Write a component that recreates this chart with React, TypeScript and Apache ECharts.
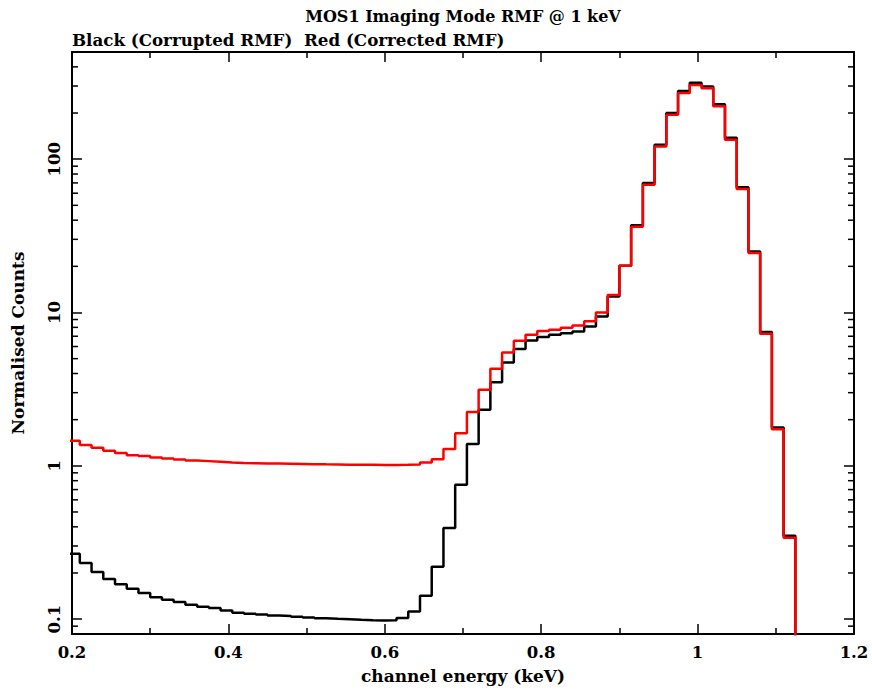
import React, { useEffect, useRef } from "react";
import * as echarts from "echarts";

// Lower edges of the 15 eV channel bins (keV)
const binLowEdges = [
  0.195, 0.21, 0.225, 0.24, 0.255, 0.27, 0.285, 0.3, 0.315, 0.33,
  0.345, 0.36, 0.375, 0.39, 0.405, 0.42, 0.435, 0.45, 0.465, 0.48,
  0.495, 0.51, 0.525, 0.54, 0.555, 0.57, 0.585, 0.6, 0.615, 0.63,
  0.645, 0.66, 0.675, 0.69, 0.705, 0.72, 0.735, 0.75, 0.765, 0.78,
  0.795, 0.81, 0.825, 0.84, 0.855, 0.87, 0.885, 0.9, 0.915, 0.93,
  0.945, 0.96, 0.975, 0.99, 1.005, 1.02, 1.035, 1.05, 1.065, 1.08,
  1.095, 1.11,
];
const lastBinHighEdge = 1.125;
// value used for the empty channels after the last bin (drawn as the drop to the axis)
const emptyChannel = 0.001;

// Black: corrupted RMF
const corruptedCounts = [
  0.267, 0.232, 0.203, 0.183, 0.169, 0.158, 0.148, 0.139, 0.134, 0.1295,
  0.124, 0.1205, 0.118, 0.1137, 0.11, 0.1085, 0.1072, 0.1058, 0.105, 0.1037,
  0.1026, 0.1015, 0.1006, 0.0998, 0.099, 0.0983, 0.098, 0.0983, 0.1017, 0.112,
  0.142, 0.22, 0.393, 0.752, 1.386, 2.32, 3.51, 4.72, 5.77, 6.57,
  6.91, 7.16, 7.33, 7.51, 8.09, 9.42, 12.7, 20.2, 37, 70,
  124, 200, 278, 315, 298, 228, 138, 65.5, 25, 7.45,
  1.78, 0.35,
];

// Red: corrected RMF
const correctedCounts = [
  1.456, 1.365, 1.31, 1.252, 1.21, 1.174, 1.157, 1.133, 1.116, 1.099,
  1.083, 1.073, 1.062, 1.051, 1.043, 1.04, 1.037, 1.034, 1.031, 1.028,
  1.025, 1.022, 1.02, 1.018, 1.016, 1.015, 1.014, 1.014, 1.016, 1.02,
  1.05, 1.105, 1.285, 1.633, 2.24, 3.13, 4.3, 5.49, 6.55, 7.16,
  7.56, 7.71, 7.94, 8.22, 8.76, 9.99, 13.0, 20.2, 36.3, 68.1,
  121, 195, 270, 305, 290, 221, 134, 63.9, 24.4, 7.26,
  1.735, 0.34,
];

// minor tick positions of the logarithmic y axis
const yMinorTicks = [
  0.09, 0.2, 0.3, 0.4, 0.5, 0.6, 0.7, 0.8, 0.9,
  2, 3, 4, 5, 6, 7, 8, 9,
  20, 30, 40, 50, 60, 70, 80, 90,
  200, 300, 400,
];

const titleText = "MOS1 Imaging Mode RMF @ 1 keV";
const subtitleText = "Black (Corrupted RMF)  Red (Corrected RMF)";
const xName = "channel energy (keV)";
const yName = "Normalised Counts";

const FONT_FAMILY = '"DejaVu Serif", serif';

export default function App() {
  const ref = useRef<HTMLDivElement>(null);

  useEffect(() => {
    document.body.style.margin = "0";
    const chart = echarts.init(ref.current!, null, { renderer: "svg" });

    const toSteps = (vals: number[]) => {
      const d: number[][] = binLowEdges.map((e, i) => [e, vals[i]]);
      d.push([lastBinHighEdge, emptyChannel]);
      return d;
    };

    const line = { color: "#000", width: 2 };
    const tickStyle = { color: "#000", width: 1.5 };
    const labelStyle = {
      color: "#000",
      fontFamily: FONT_FAMILY,
      fontWeight: "bold" as const,
      fontSize: 16.5,
    };
    const nameStyle = { ...labelStyle, fontSize: 17 };

    const xCommon = {
      type: "value" as const,
      min: 0.2,
      max: 1.2,
      interval: 0.2,
      axisLine: { show: true, onZero: false, lineStyle: line },
      axisTick: { show: true, inside: true, length: 10, lineStyle: tickStyle },
      minorTick: { show: true, splitNumber: 2, length: 6, lineStyle: tickStyle },
      splitLine: { show: false },
      minorSplitLine: { show: false },
    };

    const yCommon = {
      type: "log" as const,
      logBase: 10,
      min: 0.08,
      max: 500,
      axisLine: { show: true, onZero: false, lineStyle: line },
      axisTick: { show: true, inside: true, length: 10, lineStyle: tickStyle },
      splitLine: { show: false },
    };

    chart.setOption({
      animation: false,
      backgroundColor: "#fff",
      grid: { left: 72, right: 18, top: 52, bottom: 58 },
      graphic: [
        {
          type: "text",
          x: 463,
          y: 16,
          style: {
            text: titleText,
            fill: "#000",
            font: `bold 16px ${FONT_FAMILY}`,
            align: "center",
            verticalAlign: "middle",
          },
        },
        {
          type: "text",
          x: 72,
          y: 40,
          style: {
            text: subtitleText,
            fill: "#000",
            font: `bold 16.7px ${FONT_FAMILY}`,
            align: "left",
            verticalAlign: "middle",
          },
        },
      ],
      xAxis: [
        {
          ...xCommon,
          position: "bottom",
          axisLabel: {
            ...labelStyle,
            margin: 10,
            formatter: (v: number) => String(Number(v.toFixed(1))),
          },
          name: xName,
          nameLocation: "middle",
          nameGap: 33,
          nameTextStyle: nameStyle,
        },
        {
          ...xCommon,
          position: "top",
          axisLabel: { show: false },
        },
      ],
      yAxis: [
        {
          ...yCommon,
          position: "left",
          axisLabel: {
            ...labelStyle,
            rotate: 90,
            margin: 9,
            showMinLabel: false,
            showMaxLabel: false,
            formatter: (v: number) =>
              v >= 1 ? String(Math.round(v)) : String(Number(v.toPrecision(1))),
          },
          name: yName,
          nameLocation: "middle",
          nameRotate: 90,
          nameGap: 46,
          nameTextStyle: nameStyle,
        },
        {
          ...yCommon,
          position: "right",
          axisLabel: { show: false },
        },
      ],
      series: [
        {
          type: "custom",
          xAxisIndex: 0,
          yAxisIndex: 0,
          silent: true,
          data: yMinorTicks.map((v) => [0.2, v]),
          renderItem: (_params: any, api: any) => {
            const v = api.value(1);
            const l = api.coord([0.2, v]);
            const r = api.coord([1.2, v]);
            return {
              type: "group",
              children: [
                {
                  type: "line",
                  shape: { x1: l[0], y1: l[1], x2: l[0] + 6, y2: l[1] },
                  style: { stroke: "#000", lineWidth: 1.5 },
                },
                {
                  type: "line",
                  shape: { x1: r[0] - 6, y1: r[1], x2: r[0], y2: r[1] },
                  style: { stroke: "#000", lineWidth: 1.5 },
                },
              ],
            };
          },
        },
        {
          type: "line",
          name: "Corrupted RMF",
          step: "end",
          symbol: "none",
          clip: true,
          data: toSteps(corruptedCounts),
          lineStyle: { color: "#000", width: 2.5 },
          itemStyle: { color: "#000" },
          z: 3,
        },
        {
          type: "line",
          name: "Corrected RMF",
          step: "end",
          symbol: "none",
          clip: true,
          data: toSteps(correctedCounts),
          lineStyle: { color: "#ff0000", width: 2.5 },
          itemStyle: { color: "#ff0000" },
          z: 4,
        },
      ],
    });

    return () => chart.dispose();
  }, []);

  return (
    <div
      ref={ref}
      style={{ width: 872, height: 692, position: "absolute", left: 0, top: 0 }}
    />
  );
}
